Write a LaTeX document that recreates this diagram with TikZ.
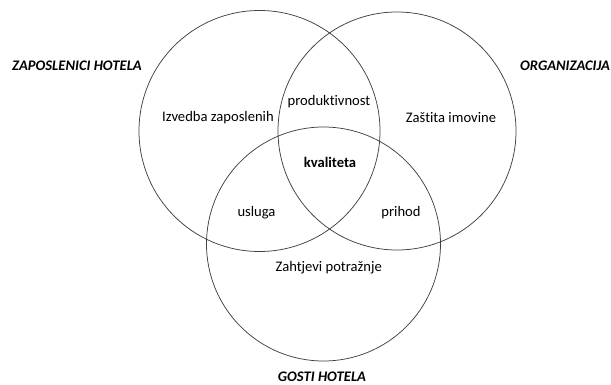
\documentclass[tikz,border=0pt]{standalone}
\usepackage{fontspec}
\setmainfont{Carlito}[Ligatures=NoCommon]
\begin{document}
\begin{tikzpicture}[x=1pt,y=-1pt,
  venn/.style={circle,draw=black!75,line width=0.75pt,inner sep=0pt},
  lbl/.style={inner sep=0pt,font=\fontsize{14.6}{17}\selectfont},
  ttl/.style={inner sep=0pt,font=\fontsize{14.6}{17}\selectfont\bfseries\itshape}]
\useasboundingbox (0,0) rectangle (611,385);
\node[venn,minimum size=241pt] (L) at (259.5,131) {};
\node[venn,minimum size=238pt] (R) at (397,131) {};
\node[venn,minimum size=234pt] (B) at (323.5,244) {};
\node[ttl] (tL) at (77,66) {ZAPOSLENICI HOTELA};
\node[ttl] (tR) at (565,66) {ORGANIZACIJA};
\node[ttl] (tB) at (322,377) {GOSTI HOTELA};
\node[lbl] (l1) at (218,118) {Izvedba zaposlenih};
\node[lbl] (l2) at (329,102) {produktivnost};
\node[lbl] (l3) at (451,118) {Zaštita imovine};
\node[lbl,font=\fontsize{14.6}{17}\selectfont\bfseries] (l4) at (330,162) {kvaliteta};
\node[lbl] (l5) at (256.5,213) {usluga};
\node[lbl] (l6) at (401,213) {prihod};
\node[lbl] (l7) at (328.7,268) {Zahtjevi potražnje};
\end{tikzpicture}
\end{document}
